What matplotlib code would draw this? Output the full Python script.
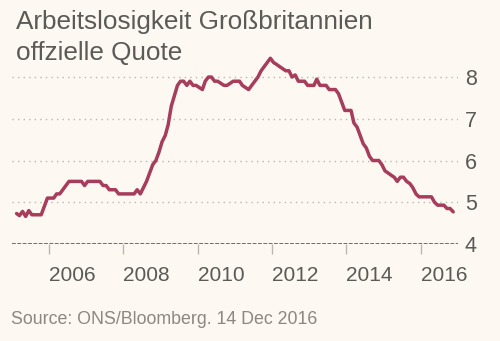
import matplotlib
matplotlib.use("Agg")
import matplotlib.pyplot as plt
import numpy as np
import pandas as pd

# Monthly ILO unemployment rate, UK (%), Jan 2005 - Oct 2016
rate_2005 = [4.73, 4.68, 4.78, 4.66, 4.8, 4.7, 4.7, 4.7, 4.7, 4.9, 5.1, 5.1]
rate_2006 = [5.1, 5.2, 5.2, 5.3, 5.4, 5.5, 5.5, 5.5, 5.5, 5.5, 5.4, 5.5]
rate_2007 = [5.5, 5.5, 5.5, 5.5, 5.4, 5.4, 5.3, 5.3, 5.3, 5.2, 5.2, 5.2]
rate_2008 = [5.2, 5.2, 5.2, 5.3, 5.2, 5.35, 5.5, 5.7, 5.9, 6.0, 6.2, 6.45]
rate_2009 = [6.6, 6.85, 7.3, 7.55, 7.8, 7.9, 7.9, 7.8, 7.9, 7.8, 7.8, 7.75]
rate_2010 = [7.7, 7.9, 8.0, 8.0, 7.9, 7.9, 7.85, 7.8, 7.8, 7.85, 7.9, 7.9]
rate_2011 = [7.9, 7.8, 7.75, 7.7, 7.8, 7.9, 8.0, 8.15, 8.25, 8.35, 8.45, 8.35]
rate_2012 = [8.3, 8.25, 8.2, 8.15, 8.15, 8.0, 8.05, 7.9, 7.9, 7.9, 7.8, 7.8]
rate_2013 = [7.8, 7.95, 7.8, 7.8, 7.8, 7.7, 7.7, 7.7, 7.6, 7.4, 7.2, 7.2]
rate_2014 = [7.2, 6.9, 6.8, 6.6, 6.4, 6.3, 6.1, 6.0, 6.0, 6.0, 5.9, 5.75]
rate_2015 = [5.7, 5.65, 5.6, 5.5, 5.6, 5.6, 5.5, 5.45, 5.35, 5.2, 5.13, 5.13]
rate_2016 = [5.13, 5.13, 5.13, 5.0, 4.93, 4.93, 4.93, 4.85, 4.85, 4.77]

rates = (rate_2005 + rate_2006 + rate_2007 + rate_2008 + rate_2009 + rate_2010
         + rate_2011 + rate_2012 + rate_2013 + rate_2014 + rate_2015 + rate_2016)
dates = pd.date_range("2005-01-15", periods=len(rates), freq="MS") + pd.Timedelta(days=14)

year_ticks = [2006, 2008, 2010, 2012, 2014, 2016]
y_ticks = [4, 5, 6, 7, 8]

title_lines = ["Arbeitslosigkeit Großbritannien", "offzielle Quote"]
source_text = "Source: ONS/Bloomberg. 14 Dec 2016"

bg = "#FDF8F1"
line_color = "#A63D5D"
text_color = "#5A5A56"
grid_color = "#BDB6AD"

plt.rcParams["font.family"] = ["Liberation Sans", "DejaVu Sans"]

fig = plt.figure(figsize=(5.0, 3.41), dpi=100, facecolor=bg)
ax = fig.add_axes([0.024, 0.2845, 0.892, 0.563])
ax.set_facecolor(bg)

ax.plot(dates, rates, color=line_color, lw=2.5, solid_joinstyle="round",
        solid_capstyle="round", zorder=3)

ax.set_xlim(pd.Timestamp("2005-01-01"), pd.Timestamp("2017-01-01"))
ax.set_ylim(4, 8.6)

# dotted horizontal gridlines
for v in y_ticks[1:]:
    ax.axhline(v, color=grid_color, lw=1.0, ls=(0, (1, 3)), zorder=1)
# dashed baseline
ax.axhline(4, color="#4A4744", lw=1.1, ls=(0, (2.5, 1.0)), zorder=2)

for s in ax.spines.values():
    s.set_visible(False)

ax.set_xticks([pd.Timestamp(f"{y}-01-01") for y in year_ticks])
ax.set_xticklabels([str(y) for y in year_ticks])
ax.tick_params(axis="x", length=7, width=1, color="#BDB6AD", pad=9,
               labelsize=15, labelcolor=text_color)
for lab in ax.get_xticklabels():
    lab.set_horizontalalignment("left")

ax.yaxis.tick_right()
ax.set_yticks(y_ticks)
ax.set_yticklabels([str(v) for v in y_ticks])
ax.tick_params(axis="y", length=0, pad=5, labelsize=15.5, labelcolor=text_color)

title_font = dict(fontsize=18.8, color=text_color, va="baseline", ha="left")
fig.text(0.031, 1 - 29 / 341, title_lines[0], **title_font)
fig.text(0.031, 1 - 60 / 341, title_lines[1], **title_font)
fig.text(0.022, 1 - 324 / 341, source_text, fontsize=12.8, color="#8C8782",
         va="baseline", ha="left")

fig.savefig("out.png", dpi=100, facecolor=bg)
